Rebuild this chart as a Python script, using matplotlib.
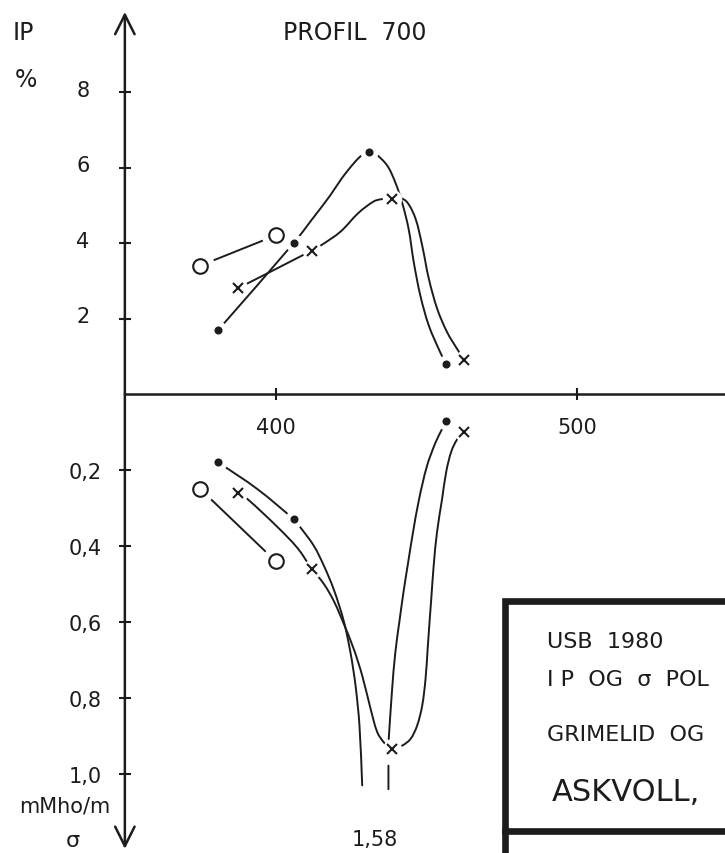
import matplotlib
matplotlib.use('Agg')
import matplotlib.pyplot as plt
from matplotlib.patches import Rectangle, PathPatch
from matplotlib.lines import Line2D
from matplotlib.path import Path
from matplotlib.transforms import ScaledTranslation

plt.rcParams['font.family'] = ['DejaVu Sans']
ink = '#1c1c1c'

# stations along the profile (m)
x_circle = [375, 400]
x_dot = [381, 406, 431, 456.5]
x_cross = [387.5, 412, 438.5, 462.5]

# IP in %
ip_circle = [3.4, 4.2]
ip_dot = [1.7, 4.0, 6.4, 0.8]
ip_cross = [2.8, 3.8, 5.17, 0.9]

# sigma in mMho/m (1,58 is off the scale)
sig_circle = [0.25, 0.44]
sig_dot = [0.18, 0.33, 1.58, 0.07]
sig_cross = [0.26, 0.46, 0.935, 0.10]

# the hand drawn curves
ip_dot_cx = [381, 406, 412, 418, 422, 426, 428.7, 431, 433.1, 437, 439.7, 441.9, 444.1,
             445.8, 448, 450.8, 454.6, 456.5]
ip_dot_cy = [1.7, 4.0, 4.62, 5.25, 5.72, 6.12, 6.33, 6.4, 6.36, 6.05, 5.6, 5.08, 4.37,
             3.49, 2.6, 1.81, 1.1, 0.8]
ip_cross_cx = [387.5, 412, 414.9, 421.5, 427.5, 432.5, 435, 438.5, 440.8, 443.6, 446.4,
               448.6, 450.8, 453.6, 456.9, 460.2, 462.5]
ip_cross_cy = [2.8, 3.8, 3.93, 4.3, 4.8, 5.1, 5.16, 5.18, 5.21, 5.08, 4.64,
               3.93, 3.05, 2.25, 1.63, 1.19, 0.9]

nan = float('nan')
sig_dot_cx = [381, 393.9, 406, 408.3, 412.7, 416, 419.3, 422.6, 424.8, 426.5, 427.8, 428.7,
              nan, 437.4, 437.4, nan,
              437.5, 438.6, 439.7, 441.1, 442.4, 443.9, 445.4, 447.5, 450.2, 453, 455.2, 456.5]
sig_dot_cy = [0.18, 0.25, 0.33, 0.352, 0.40, 0.452, 0.515, 0.598, 0.68, 0.768, 0.873, 1.03,
              nan, 1.04, 0.978, nan,
              0.908, 0.779, 0.679, 0.595, 0.521, 0.445, 0.371, 0.279, 0.189, 0.128, 0.092, 0.07]
sig_cross_cx = [387.5, 390.6, 400.6, 407.2, 412, 416, 419.3, 422.6, 425.9, 428.7, 431.5,
                433.7, 435.9, 438.5, 442, 444.7, 446.9, 448.6, 449.7, 450.4, 451.1, 451.6,
                452.4, 453.5, 455.2, 456.6, 458.3, 460.3, 462.5]
sig_cross_cy = [0.26, 0.276, 0.35, 0.405, 0.46, 0.5, 0.545, 0.605, 0.671, 0.741, 0.829,
                0.89, 0.917, 0.935, 0.925, 0.908, 0.873, 0.82, 0.75, 0.671, 0.592, 0.539,
                0.452, 0.364, 0.276, 0.203, 0.15, 0.118, 0.10]

ip_ticks = [2, 4, 6, 8]
sig_ticks = [0.2, 0.4, 0.6, 0.8, 1.0]
sig_tick_labels = ['0,2', '0,4', '0,6', '0,8', '1,0']
x_ticks = [400, 500]

W, H = 725, 854
fig = plt.figure(figsize=(W / 100, H / 100), dpi=100)
fig.patch.set_facecolor('white')

split = 395  # pixel row of the distance axis
ax_ip = fig.add_axes([0, 1 - split / H, 1, split / H])
ax_s = fig.add_axes([0, 0, 1, 1 - split / H])

xlim = (308.6, 549.0)
for ax in (ax_ip, ax_s):
    ax.set_xlim(*xlim)
    ax.patch.set_alpha(0)
    for side in ('top', 'right'):
        ax.spines[side].set_visible(False)
    ax.spines['left'].set_position(('data', 350))
    ax.spines['left'].set_visible(False)

ax_ip.set_ylim(0, split / 37.75)
ax_s.set_ylim((H - split) / 380, 0)

ax_ip.spines['bottom'].set_bounds(350, xlim[1])
ax_ip.spines['bottom'].set_linewidth(1.8)
ax_ip.spines['bottom'].set_color(ink)
ax_s.spines['bottom'].set_visible(False)

ax_ip.set_yticks(ip_ticks)
ax_ip.set_yticklabels([str(t) for t in ip_ticks])
ax_ip.set_xticks(x_ticks)
ax_ip.set_xticklabels([str(t) for t in x_ticks])
ax_ip.tick_params(axis='y', direction='inout', length=9, width=1.5, color=ink,
                  pad=21, labelsize=15, labelcolor=ink)
ax_ip.tick_params(axis='x', direction='inout', length=9, width=1.5, color=ink,
                  pad=12, labelsize=15, labelcolor=ink)
for lab in ax_ip.get_yticklabels():
    lab.set_transform(lab.get_transform() + ScaledTranslation(0, 0.04, fig.dpi_scale_trans))

ax_s.set_yticks(sig_ticks)
ax_s.set_yticklabels(sig_tick_labels)
ax_s.set_xticks([])
ax_s.tick_params(axis='y', direction='inout', length=9, width=1.5, color=ink,
                 pad=12, labelsize=15, labelcolor=ink)

# value axis with open arrow heads
head = dict(arrowstyle='->,head_length=0.7,head_width=0.35', lw=1.8, color=ink,
            mutation_scale=20, shrinkA=0, shrinkB=0)
ax_ip.annotate('', xy=(350, 10.12), xytext=(350, 0), arrowprops=head, annotation_clip=False)
ax_s.annotate('', xy=(350, 1.197), xytext=(350, 0), arrowprops=head, annotation_clip=False)


def smooth(ax, xs, ys, sy):
    # french-curve style line through the traced points (cubic, chord scaled)
    sx = 3.02
    pieces, cur = [], []
    for x, y in zip(xs, ys):
        if x != x:
            if cur:
                pieces.append(cur)
            cur = []
        else:
            cur.append((x * sx, y * sy))
    if cur:
        pieces.append(cur)
    for pts in pieces:
        verts, codes = [pts[0]], [Path.MOVETO]
        n = len(pts)
        tan = []
        for i in range(n):
            a = pts[max(i - 1, 0)]
            b = pts[min(i + 1, n - 1)]
            dx, dy = b[0] - a[0], b[1] - a[1]
            d = (dx * dx + dy * dy) ** 0.5 or 1
            tan.append((dx / d, dy / d))
        for i in range(n - 1):
            p1, p2 = pts[i], pts[i + 1]
            L = ((p2[0] - p1[0]) ** 2 + (p2[1] - p1[1]) ** 2) ** 0.5 / 3
            c1 = (p1[0] + tan[i][0] * L, p1[1] + tan[i][1] * L)
            c2 = (p2[0] - tan[i + 1][0] * L, p2[1] - tan[i + 1][1] * L)
            verts += [c1, c2, p2]
            codes += [Path.CURVE4] * 3
        verts = [(vx / sx, vy / sy) for vx, vy in verts]
        ax.add_patch(PathPatch(Path(verts, codes), fill=False, edgecolor=ink, lw=1.4,
                               zorder=2, capstyle='round'))


def draw(ax, xs, ys, cx, cy, sy, marker, ms, halo, filled):
    smooth(ax, cx, cy, sy)
    ax.plot(xs, ys, ls='none', marker='o', ms=halo, mfc='white', mec='none', zorder=3)
    ax.plot(xs, ys, ls='none', marker=marker, ms=ms, mew=1.5, mec=ink,
            mfc=ink if filled else 'white', zorder=4)


draw(ax_ip, x_circle, ip_circle, x_circle, ip_circle, 37.75, 'o', 10.5, 21, False)
draw(ax_ip, x_dot, ip_dot, ip_dot_cx, ip_dot_cy, 37.75, 'o', 4.3, 13, True)
draw(ax_ip, x_cross, ip_cross, ip_cross_cx, ip_cross_cy, 37.75, 'x', 7.5, 14, False)

draw(ax_s, x_circle, sig_circle, x_circle, sig_circle, 380, 'o', 10.5, 21, False)
draw(ax_s, x_dot, sig_dot, sig_dot_cx, sig_dot_cy, 380, 'o', 4.3, 13, True)
draw(ax_s, x_cross, sig_cross, sig_cross_cx, sig_cross_cy, 380, 'x', 7.5, 14, False)

ax_s.text(x_dot[2] + 2, 1.17, '1,58', ha='center', va='center', fontsize=15, color=ink)


def ftext(px, py, s, size, ha='left'):
    fig.text(px / W, 1 - py / H, s, ha=ha, va='center', fontsize=size, color=ink)


ftext(13, 33, 'IP', 17)
ftext(26, 80, '%', 17, ha='center')
ftext(283, 33, 'PROFIL  700', 17)
ftext(65, 807, 'mMho/m', 15, ha='center')
ftext(73, 841, 'σ', 16, ha='center')

# title block in the corner
fig.add_artist(Rectangle((505 / W, -0.05), 1, 1 - 602 / H + 0.05, transform=fig.transFigure,
                         facecolor='white', edgecolor=ink, lw=4.8, zorder=5))
fig.add_artist(Line2D([505 / W, 1.05], [1 - 832 / H] * 2, transform=fig.transFigure,
                      color=ink, lw=4.8, zorder=6))
for py, s in [(642, 'USB  1980'), (680, 'I P  OG  σ  POL'), (735, 'GRIMELID  OG')]:
    fig.text(547 / W, 1 - py / H, s, ha='left', va='center', fontsize=16, color=ink, zorder=7)
fig.text(552 / W, 1 - 793 / H, 'ASKVOLL,', ha='left', va='center', fontsize=22,
         color=ink, zorder=7)

fig.savefig('out.png', dpi=100, facecolor='white')
